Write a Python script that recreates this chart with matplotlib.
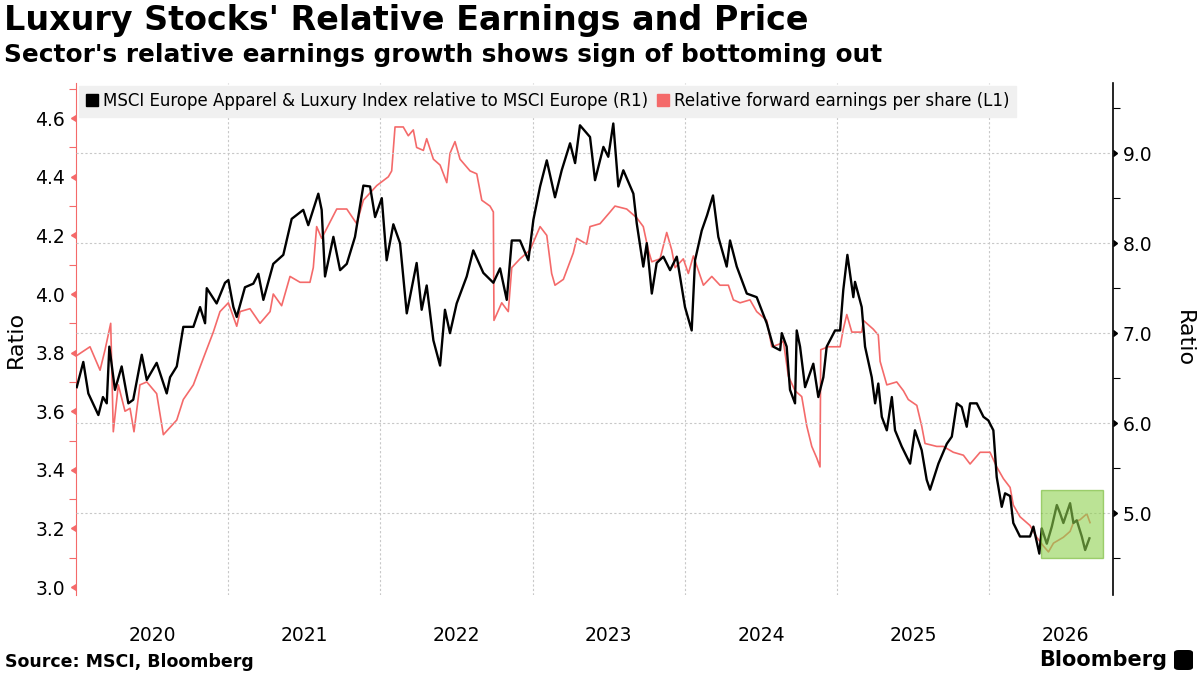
import matplotlib
matplotlib.use("Agg")
import matplotlib.pyplot as plt
import numpy as np
from matplotlib.lines import Line2D
from matplotlib.patches import Rectangle, FancyBboxPatch
from matplotlib.markers import CARETLEFTBASE, CARETRIGHTBASE
from matplotlib.ticker import FixedLocator, FixedFormatter

# ---------------- data (decimal years) ----------------
# MSCI Europe Apparel & Luxury Index relative to MSCI Europe (R1)
price_x = [2020.005, 2020.048, 2020.081, 2020.147, 2020.177, 2020.202, 2020.219, 2020.256, 2020.300, 2020.344,
           2020.376, 2020.432, 2020.465, 2020.530, 2020.596, 2020.618, 2020.662, 2020.705, 2020.771, 2020.815,
           2020.848, 2020.859, 2020.924, 2020.979, 2021.001, 2021.034, 2021.056, 2021.110, 2021.165, 2021.198,
           2021.231, 2021.296, 2021.362, 2021.417, 2021.493, 2021.526, 2021.592, 2021.614, 2021.636, 2021.691,
           2021.735, 2021.779, 2021.833, 2021.888, 2021.932, 2021.965, 2022.009, 2022.041, 2022.085, 2022.129,
           2022.173, 2022.238, 2022.271, 2022.304, 2022.348, 2022.392, 2022.424, 2022.457, 2022.501, 2022.567,
           2022.610, 2022.676, 2022.742, 2022.786, 2022.830, 2022.863, 2022.917, 2022.972, 2023.005, 2023.049,
           2023.093, 2023.147, 2023.191, 2023.246, 2023.279, 2023.311, 2023.377, 2023.410, 2023.465, 2023.497,
           2023.530, 2023.563, 2023.596, 2023.662, 2023.684, 2023.727, 2023.750, 2023.783, 2023.815, 2023.859,
           2023.903, 2023.947, 2024.001, 2024.045, 2024.067, 2024.111, 2024.146, 2024.185, 2024.220, 2024.275,
           2024.297, 2024.341, 2024.407, 2024.472, 2024.538, 2024.581, 2024.626, 2024.637, 2024.669, 2024.691,
           2024.724, 2024.735, 2024.757, 2024.790, 2024.844, 2024.877, 2024.910, 2024.932, 2024.987, 2025.020,
           2025.041, 2025.068, 2025.107, 2025.118, 2025.162, 2025.184, 2025.228, 2025.250, 2025.271, 2025.294,
           2025.327, 2025.360, 2025.381, 2025.425, 2025.480, 2025.512, 2025.556, 2025.589, 2025.611, 2025.666,
           2025.721, 2025.754, 2025.787, 2025.819, 2025.852, 2025.874, 2025.918, 2025.962, 2025.994, 2026.027,
           2026.049, 2026.082, 2026.104, 2026.137, 2026.158, 2026.202, 2026.268, 2026.290, 2026.329, 2026.345,
           2026.378, 2026.411, 2026.444, 2026.465, 2026.487, 2026.531, 2026.553, 2026.575, 2026.608, 2026.630,
           2026.658]
price_y = [6.40, 6.68, 6.33, 6.09, 6.29, 6.22, 6.85, 6.37, 6.63, 6.22,
           6.26, 6.76, 6.48, 6.67, 6.33, 6.51, 6.63, 7.07, 7.07, 7.29,
           7.11, 7.50, 7.33, 7.56, 7.59, 7.29, 7.18, 7.51, 7.55, 7.66,
           7.37, 7.77, 7.87, 8.27, 8.37, 8.20, 8.55, 8.37, 7.63, 8.07,
           7.70, 7.77, 8.07, 8.64, 8.63, 8.29, 8.50, 7.81, 8.21, 8.00,
           7.22, 7.78, 7.26, 7.53, 6.92, 6.64, 7.26, 7.00, 7.33, 7.63,
           7.92, 7.67, 7.56, 7.72, 7.37, 8.03, 8.03, 7.81, 8.26, 8.63,
           8.92, 8.51, 8.81, 9.11, 8.89, 9.31, 9.18, 8.70, 9.07, 8.96,
           9.33, 8.63, 8.81, 8.55, 8.22, 7.74, 8.00, 7.44, 7.78, 7.85,
           7.70, 7.85, 7.29, 7.03, 7.81, 8.14, 8.31, 8.53, 8.07, 7.74,
           8.03, 7.74, 7.44, 7.40, 7.11, 6.85, 6.81, 7.00, 6.85, 6.37,
           6.22, 7.03, 6.85, 6.40, 6.66, 6.29, 6.51, 6.85, 7.03, 7.03,
           7.48, 7.87, 7.40, 7.57, 7.29, 6.85, 6.51, 6.22, 6.44, 6.07,
           5.92, 6.29, 5.92, 5.74, 5.55, 5.92, 5.70, 5.37, 5.26, 5.55,
           5.77, 5.85, 6.22, 6.18, 5.96, 6.22, 6.22, 6.07, 6.03, 5.92,
           5.40, 5.07, 5.22, 5.19, 4.89, 4.74, 4.74, 4.85, 4.55, 4.83,
           4.66, 4.85, 5.09, 5.00, 4.89, 5.11, 4.89, 4.92, 4.74, 4.59,
           4.72]

# Relative forward earnings per share (L1)
eps_x = [2020.005, 2020.092, 2020.158, 2020.191, 2020.228, 2020.245, 2020.278, 2020.322, 2020.355, 2020.381,
         2020.420, 2020.465, 2020.530, 2020.574, 2020.662, 2020.705, 2020.771, 2020.836, 2020.902, 2020.946,
         2021.001, 2021.056, 2021.078, 2021.143, 2021.209, 2021.275, 2021.296, 2021.351, 2021.406, 2021.472,
         2021.537, 2021.559, 2021.581, 2021.614, 2021.713, 2021.779, 2021.844, 2021.888, 2021.976, 2022.052,
         2022.074, 2022.096, 2022.150, 2022.183, 2022.216, 2022.238, 2022.282, 2022.304, 2022.348, 2022.392,
         2022.436, 2022.457, 2022.490, 2022.523, 2022.589, 2022.633, 2022.666, 2022.720, 2022.742, 2022.746,
         2022.797, 2022.840, 2022.863, 2022.917, 2022.983, 2023.049, 2023.093, 2023.125, 2023.147, 2023.202,
         2023.267, 2023.290, 2023.355, 2023.377, 2023.443, 2023.509, 2023.541, 2023.618, 2023.684, 2023.727,
         2023.760, 2023.783, 2023.837, 2023.881, 2023.914, 2023.936, 2023.990, 2024.023, 2024.056, 2024.122,
         2024.177, 2024.231, 2024.286, 2024.319, 2024.363, 2024.428, 2024.472, 2024.538, 2024.571, 2024.626,
         2024.647, 2024.680, 2024.724, 2024.768, 2024.801, 2024.834, 2024.867, 2024.888, 2024.893, 2024.943,
         2025.020, 2025.041, 2025.064, 2025.097, 2025.162, 2025.173, 2025.238, 2025.271, 2025.283, 2025.327,
         2025.392, 2025.436, 2025.468, 2025.524, 2025.556, 2025.578, 2025.655, 2025.698, 2025.764, 2025.830,
         2025.874, 2025.940, 2026.005, 2026.049, 2026.093, 2026.137, 2026.158, 2026.202, 2026.268, 2026.312,
         2026.356, 2026.389, 2026.422, 2026.487, 2026.531, 2026.553, 2026.597, 2026.641, 2026.662]
eps_y = [3.79, 3.82, 3.74, 3.81, 3.90, 3.53, 3.69, 3.60, 3.61, 3.53,
         3.69, 3.70, 3.66, 3.52, 3.57, 3.64, 3.69, 3.78, 3.87, 3.94,
         3.97, 3.89, 3.94, 3.95, 3.90, 3.94, 4.00, 3.96, 4.06, 4.04,
         4.04, 4.09, 4.23, 4.19, 4.29, 4.29, 4.24, 4.32, 4.37, 4.40,
         4.42, 4.57, 4.57, 4.54, 4.56, 4.50, 4.49, 4.53, 4.46, 4.44,
         4.38, 4.48, 4.52, 4.46, 4.42, 4.41, 4.32, 4.30, 4.28, 3.91,
         3.97, 3.94, 4.09, 4.12, 4.15, 4.23, 4.20, 4.07, 4.03, 4.05,
         4.14, 4.19, 4.17, 4.23, 4.24, 4.28, 4.30, 4.29, 4.26, 4.23,
         4.15, 4.11, 4.12, 4.21, 4.15, 4.09, 4.12, 4.07, 4.13, 4.03,
         4.06, 4.03, 4.03, 3.98, 3.97, 3.98, 3.94, 3.91, 3.82, 3.83,
         3.84, 3.72, 3.67, 3.65, 3.55, 3.48, 3.44, 3.41, 3.81, 3.82,
         3.82, 3.88, 3.93, 3.87, 3.87, 3.91, 3.88, 3.86, 3.77, 3.69,
         3.70, 3.67, 3.64, 3.62, 3.55, 3.49, 3.48, 3.48, 3.46, 3.45,
         3.42, 3.46, 3.46, 3.41, 3.37, 3.34, 3.28, 3.24, 3.21, 3.17,
         3.14, 3.12, 3.15, 3.17, 3.19, 3.22, 3.23, 3.25, 3.22]

year_labels = ["2020", "2021", "2022", "2023", "2024", "2025", "2026"]
left_ticks = [3.0, 3.2, 3.4, 3.6, 3.8, 4.0, 4.2, 4.4, 4.6]
right_ticks = [5.0, 6.0, 7.0, 8.0, 9.0]
highlight_x = (2026.34, 2026.75)
highlight_y = (4.50, 5.26)

title = "Luxury Stocks' Relative Earnings and Price"
subtitle = "Sector's relative earnings growth shows sign of bottoming out"
legend_labels = ["MSCI Europe Apparel & Luxury Index relative to MSCI Europe (R1)",
                 "Relative forward earnings per share (L1)"]
source = "Source: MSCI, Bloomberg"

# ---------------- styling ----------------
RED = "#f46a6a"
BLACK = "#000000"
GRID = "#c8c8c8"
plt.rcParams["font.family"] = ["DejaVu Sans"]

W, H = 1200, 675
fig = plt.figure(figsize=(12, 6.75), dpi=100)
ax = fig.add_axes([76 / W, 1 - 595 / H, (1113 - 76) / W, (595 - 83) / H])
ax2 = ax.twinx()

ax.set_xlim(2020.0, 2026.813)
ax.set_ylim(2.973, 4.72)
ax2.set_ylim(4.09, 9.78)

# lines
ax.plot(eps_x, eps_y, color=RED, lw=1.2, zorder=3)
ax2.plot(price_x, price_y, color=BLACK, lw=1.7, zorder=3)

# highlight box
ax2.add_patch(Rectangle((highlight_x[0], highlight_y[0]), highlight_x[1] - highlight_x[0],
                        highlight_y[1] - highlight_y[0], facecolor="#8fd14f", alpha=0.6,
                        edgecolor="#6fb52c", lw=1.0, zorder=5))

# x axis: gridlines at year boundaries, labels at mid-year
years = np.arange(2021, 2027)
ax.xaxis.set_major_locator(FixedLocator(years))
ax.xaxis.set_major_formatter(FixedFormatter([""] * len(years)))
mids = [2020.5 + i for i in range(len(year_labels))]
ax.xaxis.set_minor_locator(FixedLocator(mids))
ax.xaxis.set_minor_formatter(FixedFormatter(year_labels))
ax.tick_params(axis="x", which="both", length=0, labelsize=13.5, pad=22)
ax.grid(axis="x", which="major", color=GRID, linestyle=(0, (2, 2)), lw=0.8)

# left axis
ax.set_yticks(left_ticks)
ax.set_yticklabels([f"{v:.1f}" for v in left_ticks])
ax.set_yticks(np.round(np.arange(3.1, 4.71, 0.2), 2), minor=True)
ax.tick_params(axis="y", which="major", length=5, width=1, color=RED, labelsize=13.5, pad=3)
ax.tick_params(axis="y", which="minor", length=5, width=0.8, color=RED)
for t in ax.yaxis.get_major_ticks():
    t.tick1line.set_marker(CARETLEFTBASE)
    t.tick1line.set_markersize(5)

# right axis
ax2.set_yticks(right_ticks)
ax2.set_yticklabels([f"{v:.1f}" for v in right_ticks])
ax2.set_yticks([4.5, 5.5, 6.5, 7.5, 8.5, 9.5], minor=True)
ax2.tick_params(axis="y", which="major", length=4, width=1, color=BLACK, labelsize=13.5, pad=3)
ax2.tick_params(axis="y", which="minor", length=5, width=0.8, color=BLACK)
for t in ax2.yaxis.get_major_ticks():
    t.tick2line.set_marker(CARETRIGHTBASE)
    t.tick2line.set_markersize(4)
ax2.grid(axis="y", which="major", color=GRID, linestyle=(0, (2, 2)), lw=0.8)

for a in (ax, ax2):
    a.spines["top"].set_visible(False)
    a.spines["bottom"].set_visible(False)
ax.spines["left"].set_color(RED)
ax.spines["right"].set_visible(False)
ax2.spines["left"].set_visible(False)
ax2.spines["right"].set_color(BLACK)
ax2.spines["right"].set_linewidth(1.2)

ax.set_ylabel("Ratio", fontsize=16, va="center")
ax.yaxis.set_label_coords(-0.058, 0.5)
ax2.set_ylabel("Ratio", fontsize=16, rotation=270, va="center")
ax2.yaxis.set_label_coords(1.068, 0.5)

# legend
handles = [Line2D([], [], marker="s", color=BLACK, linestyle="none", markersize=9),
           Line2D([], [], marker="s", color=RED, linestyle="none", markersize=9)]
leg = ax2.legend(handles, legend_labels, loc="upper left", bbox_to_anchor=(0.0, 1.0), ncol=2,
                 frameon=True, fancybox=False, framealpha=1, facecolor="#f0f0f0",
                 edgecolor="#f0f0f0", fontsize=12, handlelength=0.8, handletextpad=0.25,
                 columnspacing=0.5, borderpad=0.4, borderaxespad=0.15)
leg.set_zorder(10)

# texts
fig.text(4 / W, 1 - 4 / H, title, fontsize=24, fontweight="bold", va="top", ha="left")
fig.text(4 / W, 1 - 43 / H, subtitle, fontsize=17.8, fontweight="bold", va="top", ha="left")
fig.text(5 / W, 1 - 662 / H, source, fontsize=12.5, fontweight="bold", va="center", ha="left")
fig.text(1167 / W, 1 - 660 / H, "Bloomberg", fontsize=15, fontweight="bold", va="center", ha="right")
fig.patches.append(FancyBboxPatch((1174 / W, 1 - 670 / H), 19 / W, 20 / H,
                                  boxstyle="round,pad=0.0,rounding_size=0.004",
                                  transform=fig.transFigure, facecolor="black", edgecolor="none"))

fig.savefig("out.png", dpi=100)
